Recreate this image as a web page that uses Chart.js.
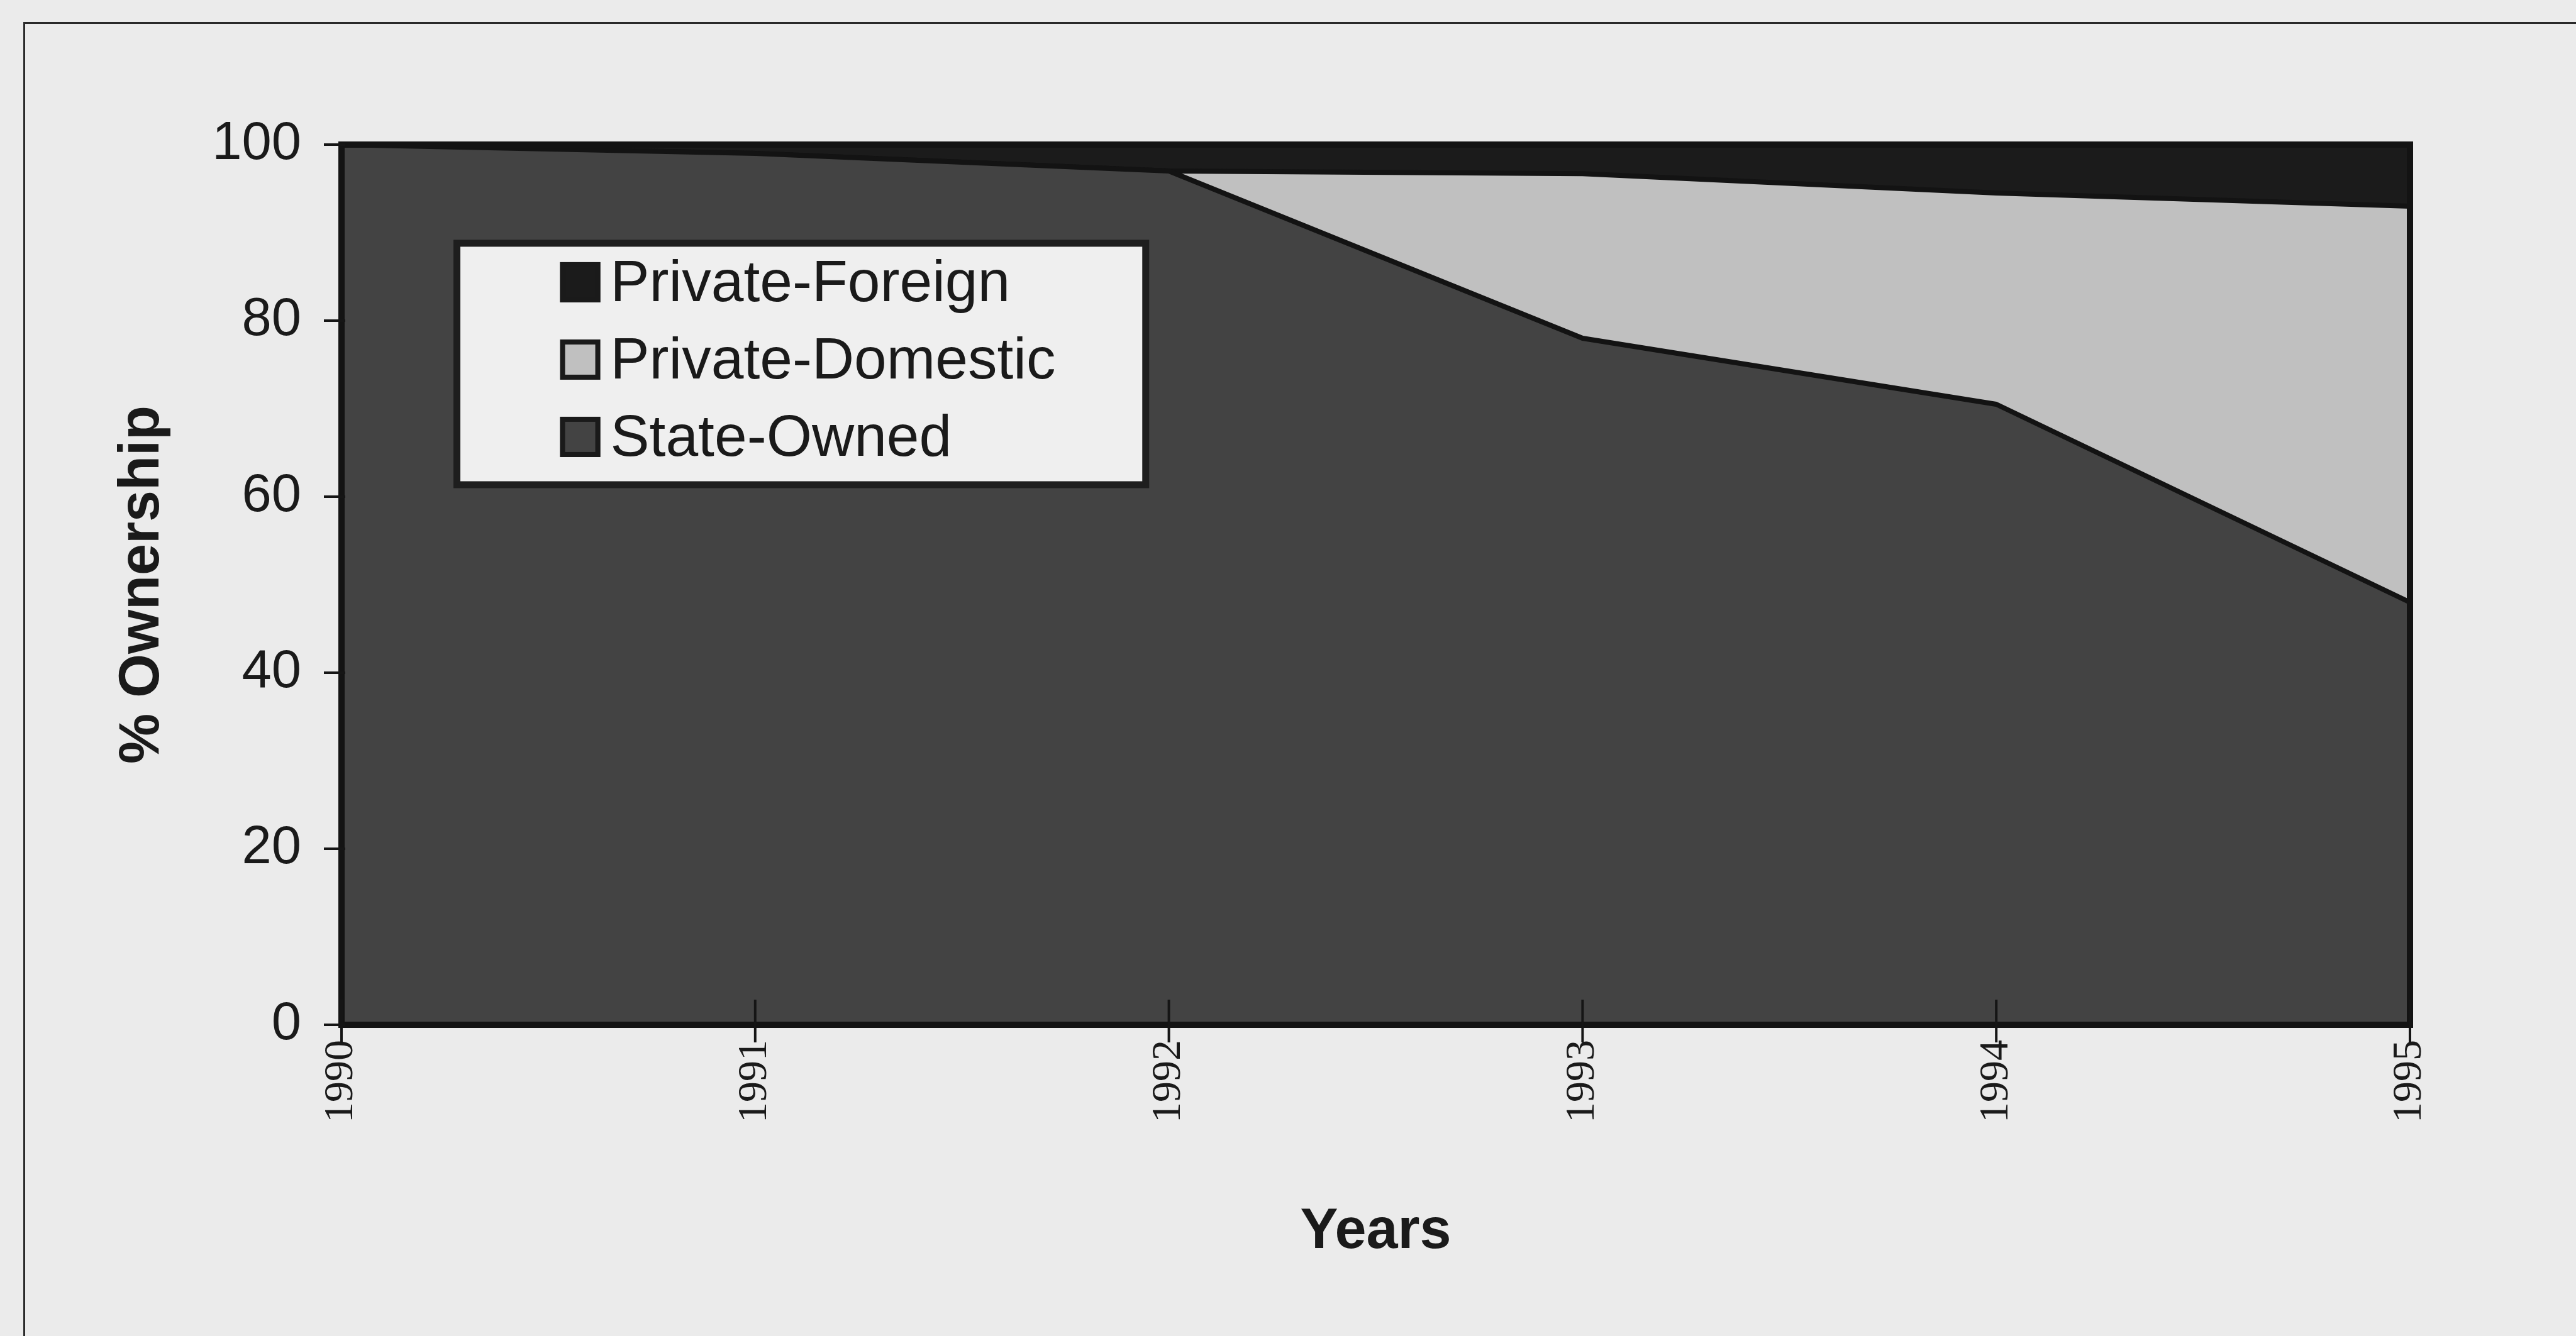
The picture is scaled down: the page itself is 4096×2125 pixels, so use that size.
<!DOCTYPE html>
<html>
<head>
<meta charset="utf-8">
<script src="https://cdn.jsdelivr.net/npm/chart.js@4.4.1/dist/chart.umd.min.js"></script>
<style>
  html, body { margin: 0; padding: 0; background: #ebebeb; }
  #wrap { position: relative; width: 4096px; height: 2125px; overflow: hidden; background: #ebebeb; }
  #frame { position: absolute; left: 37px; top: 35px; width: 4300px; height: 2400px;
           border: 3px solid #2a2a2a; box-sizing: border-box; }
  #c { position: absolute; left: 0; top: 0; }
</style>
</head>
<body>
<div id="wrap">
  <div id="frame"></div>
  <canvas id="c" width="4096" height="2125"></canvas>
</div>
<script>
// Ownership shares (%) by year, stacked bottom-up
const years = ['1990', '1991', '1992', '1993', '1994', '1995'];
const stateOwned      = [100, 99, 97, 78, 70.5, 48];
const privateDomestic = [0, 0, 0, 18.7, 24, 45];
const privateForeign  = [0, 1, 3, 3.3, 5.5, 7];
const yTickValues = [0, 20, 40, 60, 80, 100];

const seriesNames  = ['State-Owned', 'Private-Domestic', 'Private-Foreign'];
const seriesFills  = ['#434343', '#c0c0c0', '#1b1b1b'];
const edgeColor = '#131313';

// Tick marks that cross the axis lines, placed through the scales
const crossTicks = {
  id: 'crossTicks',
  afterDraw(chart) {
    const { ctx, chartArea } = chart;
    const xs = chart.scales.x, ys = chart.scales.y;
    ctx.save();
    ctx.strokeStyle = '#151515';
    ctx.lineWidth = 4;
    xs.ticks.forEach((t, i) => {
      const px = xs.getPixelForTick(i);
      ctx.beginPath();
      ctx.moveTo(px, chartArea.bottom - 40);
      ctx.lineTo(px, chartArea.bottom + 28);
      ctx.stroke();
    });
    ys.ticks.forEach((t, i) => {
      const py = ys.getPixelForTick(i);
      ctx.beginPath();
      ctx.moveTo(chartArea.left - 28, py);
      ctx.lineTo(chartArea.left + 6, py);
      ctx.stroke();
    });
    ctx.restore();
  }
};

// Dark outline round the plotting area
const areaOutline = {
  id: 'areaOutline',
  afterDatasetsDraw(chart) {
    const { ctx, chartArea: a } = chart;
    ctx.save();
    ctx.strokeStyle = edgeColor;
    ctx.lineWidth = 10;
    ctx.strokeRect(a.left, a.top, a.right - a.left, a.bottom - a.top);
    ctx.restore();
  }
};

// Boxed legend sitting over the upper-left of the plot
const boxLegend = {
  id: 'boxLegend',
  afterDraw(chart) {
    const { ctx, chartArea: a } = chart;
    const w = a.right - a.left, h = a.bottom - a.top;
    const bx = a.left + w * 0.0558, by = a.top + h * 0.1121;
    const bw = w * 0.333, bh = h * 0.2743;
    ctx.save();
    ctx.fillStyle = '#efefef';
    ctx.fillRect(bx, by, bw, bh);
    ctx.strokeStyle = '#1e1e1e';
    ctx.lineWidth = 11;
    ctx.strokeRect(bx, by, bw, bh);
    const items = chart.data.datasets.slice().reverse();
    const rowGap = 123, sw = 64;
    const firstY = by + 62;
    ctx.font = '93px "Liberation Sans", Arial, sans-serif';
    ctx.textBaseline = 'middle';
    ctx.textAlign = 'left';
    items.forEach((ds, i) => {
      const cy = firstY + i * rowGap;
      const sx = bx + 164;
      ctx.fillStyle = ds.backgroundColor;
      ctx.fillRect(sx, cy - sw / 2, sw, sw);
      ctx.strokeStyle = '#1a1a1a';
      ctx.lineWidth = 8;
      ctx.strokeRect(sx + 4, cy - sw / 2 + 4, sw - 8, sw - 8);
      ctx.fillStyle = '#1a1a1a';
      ctx.fillText(ds.label, sx + sw + 16, cy + 4);
    });
    ctx.restore();
  }
};

const stacks = [stateOwned, privateDomestic, privateForeign];
const datasets = stacks.map((vals, i) => ({
  label: seriesNames[i],
  data: vals,
  backgroundColor: seriesFills[i],
  borderColor: edgeColor,
  borderWidth: 8,
  fill: i === 0 ? 'origin' : '-1',
  pointRadius: 0,
  tension: 0
}));

new Chart(document.getElementById('c'), {
  type: 'line',
  data: { labels: years, datasets },
  options: {
    responsive: false,
    devicePixelRatio: 1,
    animation: false,
    layout: { padding: { left: 173, right: 264, top: 230, bottom: 111 } },
    plugins: { legend: { display: false }, tooltip: { enabled: false } },
    elements: { line: { borderJoinStyle: 'round' } },
    scales: {
      x: {
        type: 'category',
        offset: false,
        grid: { display: false, drawTicks: false },
        border: { display: true, color: edgeColor, width: 10 },
        ticks: {
          minRotation: 90, maxRotation: 90, padding: 24, autoSkip: false,
          color: '#1a1a1a',
          font: { family: '"Liberation Serif", "Times New Roman", serif', size: 66 }
        },
        title: {
          display: true, text: 'Years', color: '#1a1a1a', padding: 0,
          font: { family: '"Liberation Sans", Arial, sans-serif', size: 90, weight: 'bold' }
        },
        afterFit(scale) { scale.height = 384; }
      },
      y: {
        stacked: true,
        min: yTickValues[0],
        max: yTickValues[yTickValues.length - 1],
        afterBuildTicks(scale) { scale.ticks = yTickValues.map(v => ({ value: v })); },
        grid: { display: false, drawTicks: false },
        border: { display: true, color: edgeColor, width: 11 },
        ticks: {
          padding: 64, color: '#1a1a1a',
          font: { family: '"Liberation Sans", Arial, sans-serif', size: 85 }
        },
        title: {
          display: true, text: '% Ownership', color: '#1a1a1a', padding: 0,
          font: { family: '"Liberation Sans", Arial, sans-serif', size: 90, weight: 'bold' }
        },
        afterFit(scale) { scale.width = 370; }
      }
    }
  },
  plugins: [areaOutline, crossTicks, boxLegend]
});
</script>
</body>
</html>
